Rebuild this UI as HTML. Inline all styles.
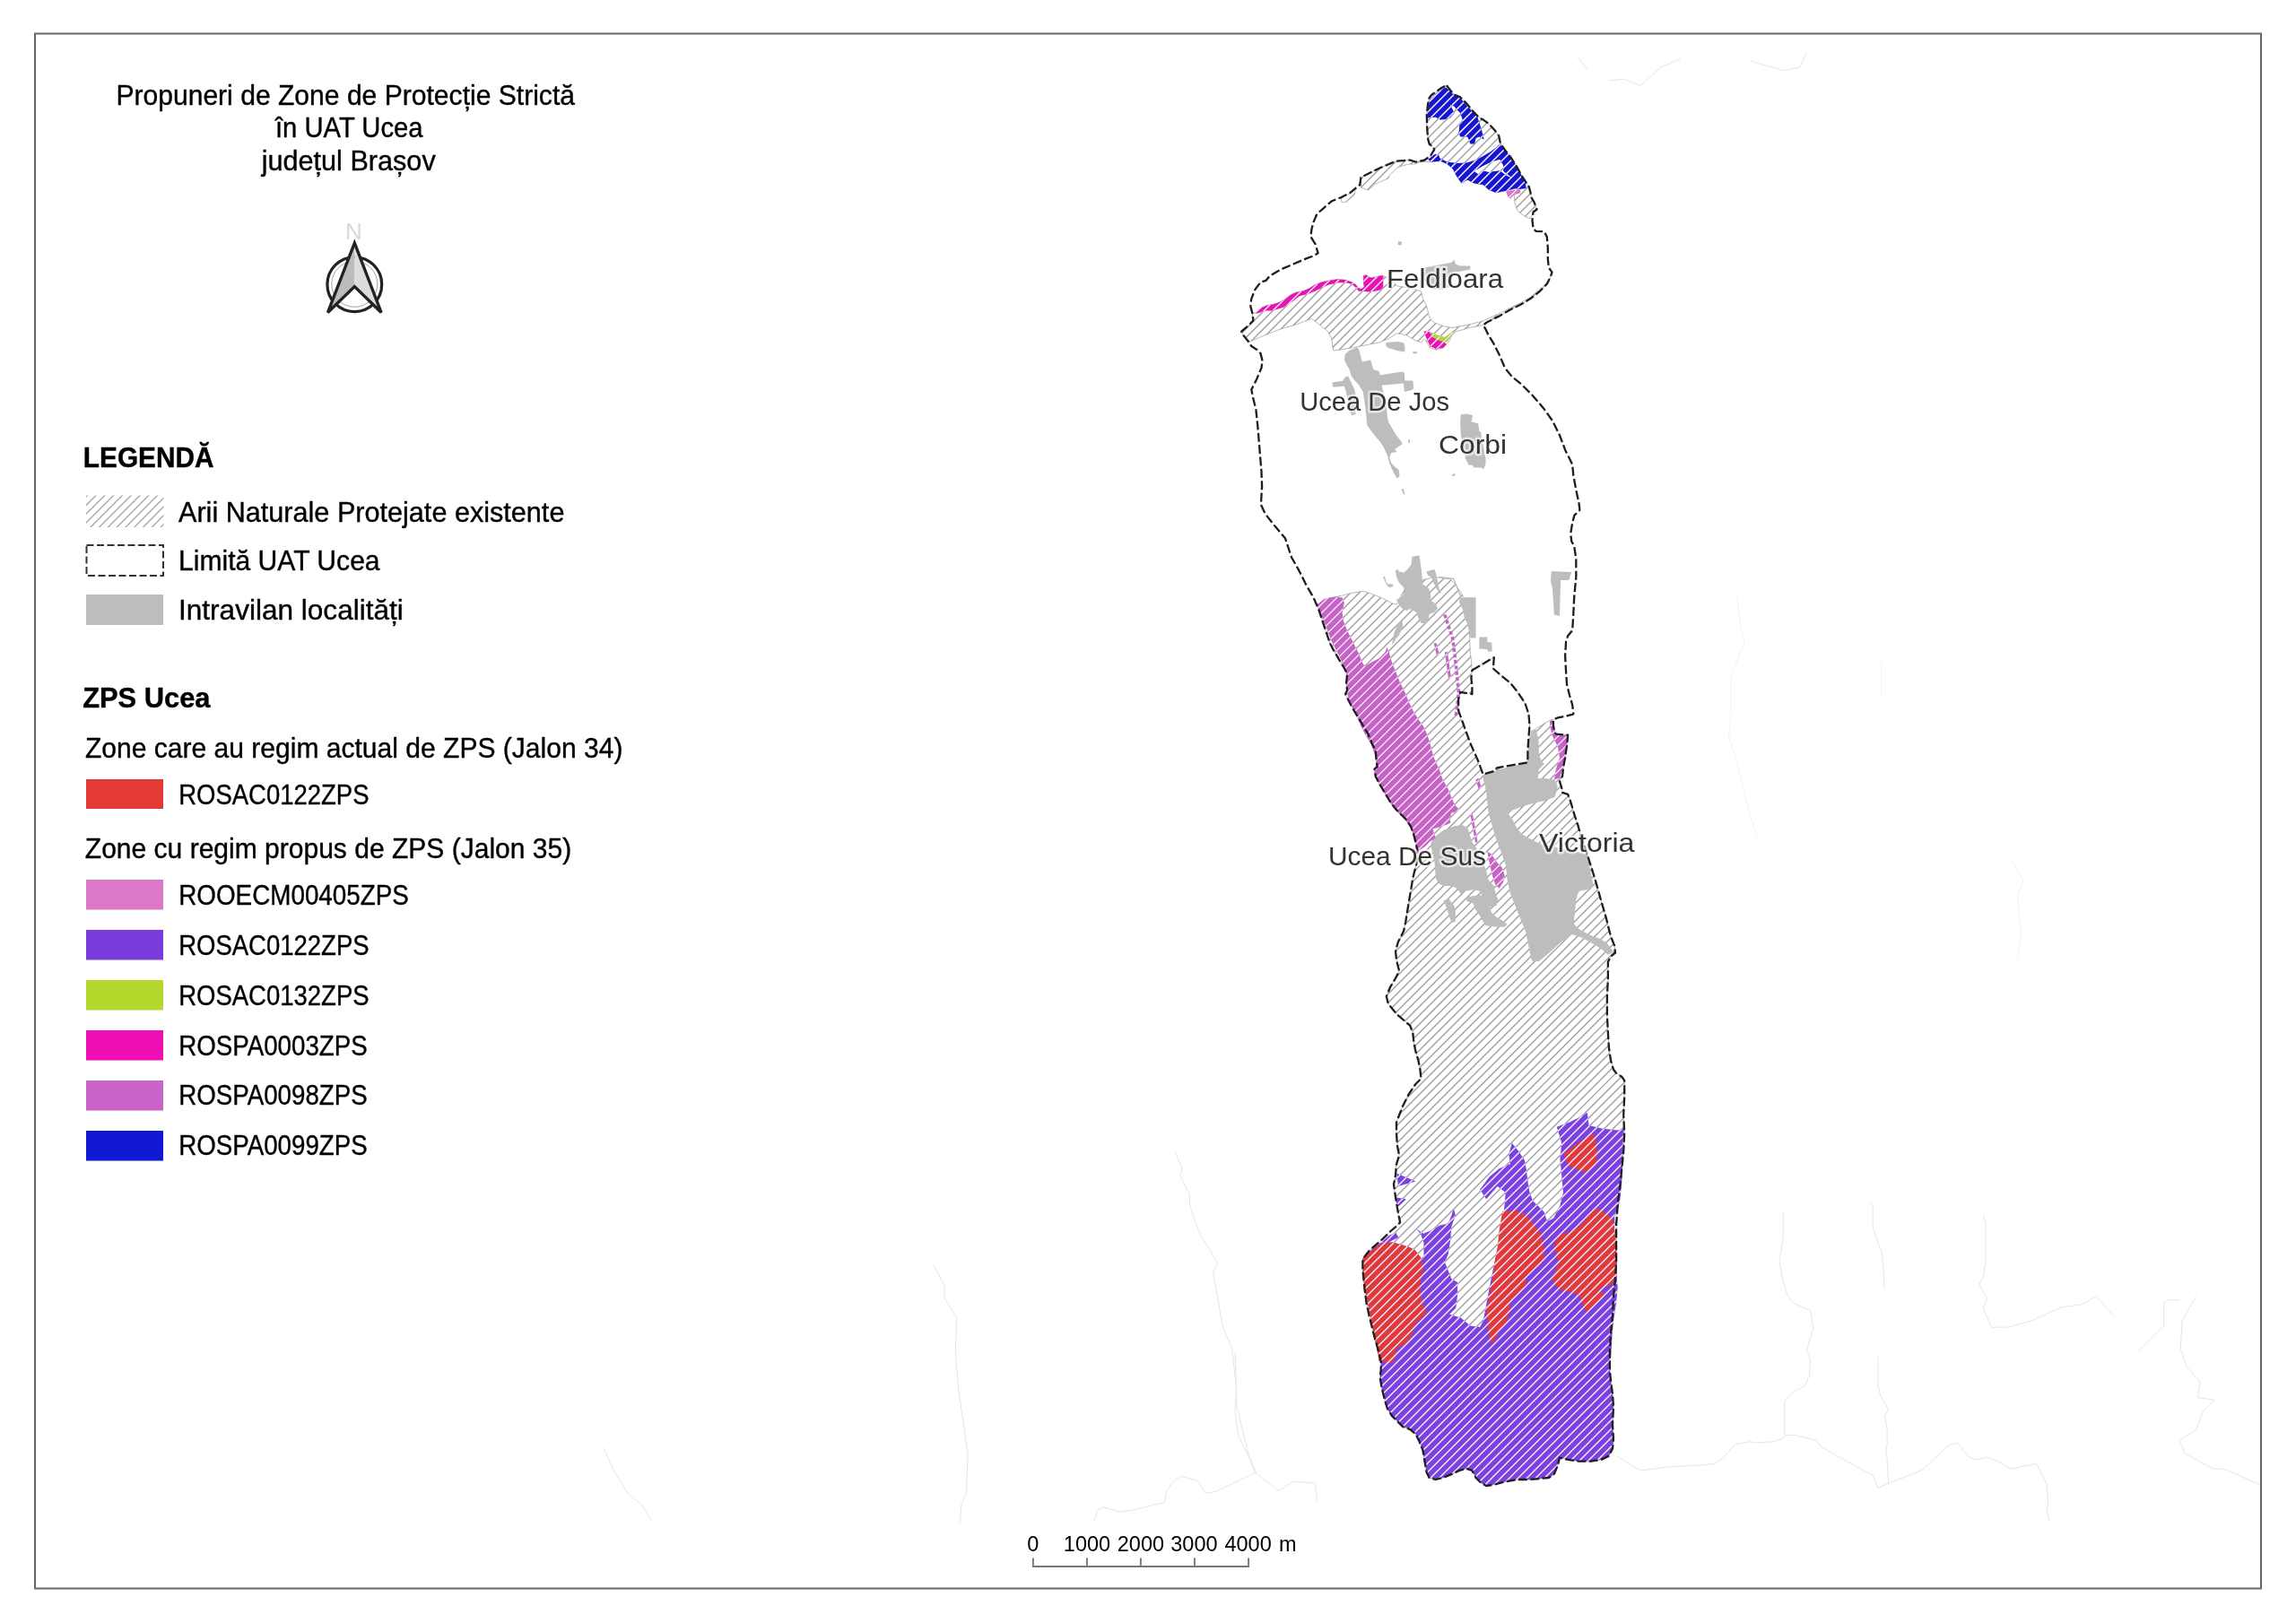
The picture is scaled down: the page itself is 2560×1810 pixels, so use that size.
<!DOCTYPE html><html><head><meta charset="utf-8"><style>html,body{margin:0;padding:0;background:#fff;}svg{display:block;}text{font-family:"Liberation Sans", sans-serif;}</style></head><body>
<div style="will-change:transform">
<svg xmlns="http://www.w3.org/2000/svg" width="2560" height="1810" viewBox="0 0 2560 1810">
<rect width="2560" height="1810" fill="#fff"/>
<defs>
<path id="hl" d="M1370.00 92.38L1377.38 85.00M1370.00 102.16L1387.16 85.00M1370.00 111.95L1396.95 85.00M1370.00 121.73L1406.73 85.00M1370.00 131.52L1416.52 85.00M1370.00 141.31L1426.31 85.00M1370.00 151.09L1436.09 85.00M1370.00 160.88L1445.88 85.00M1370.00 170.66L1455.66 85.00M1370.00 180.44L1465.44 85.00M1370.00 190.23L1475.23 85.00M1370.00 200.01L1485.01 85.00M1370.00 209.80L1494.80 85.00M1370.00 219.59L1504.59 85.00M1370.00 229.37L1514.37 85.00M1370.00 239.15L1524.15 85.00M1370.00 248.94L1533.94 85.00M1370.00 258.72L1543.72 85.00M1370.00 268.51L1553.51 85.00M1370.00 278.30L1563.30 85.00M1370.00 288.08L1573.08 85.00M1370.00 297.87L1582.87 85.00M1370.00 307.65L1592.65 85.00M1370.00 317.43L1602.43 85.00M1370.00 327.22L1612.22 85.00M1370.00 337.00L1622.00 85.00M1370.00 346.79L1631.79 85.00M1370.00 356.58L1641.58 85.00M1370.00 366.36L1651.36 85.00M1370.00 376.14L1661.14 85.00M1370.00 385.93L1670.93 85.00M1370.00 395.72L1680.72 85.00M1370.00 405.50L1690.50 85.00M1370.00 415.28L1700.28 85.00M1370.00 425.07L1710.07 85.00M1370.00 434.86L1719.86 85.00M1370.00 444.64L1729.64 85.00M1370.00 454.42L1739.42 85.00M1370.00 464.21L1749.21 85.00M1370.00 473.99L1758.99 85.00M1370.00 483.78L1768.78 85.00M1370.00 493.57L1778.57 85.00M1370.00 503.35L1788.35 85.00M1370.00 513.13L1798.13 85.00M1370.00 522.92L1807.92 85.00M1370.00 532.70L1817.70 85.00M1370.00 542.49L1827.49 85.00M1370.00 552.28L1837.28 85.00M1370.00 562.06L1840.00 92.06M1370.00 571.85L1840.00 101.85M1370.00 581.63L1840.00 111.63M1370.00 591.41L1840.00 121.41M1370.00 601.20L1840.00 131.20M1370.00 610.99L1840.00 140.99M1370.00 620.77L1840.00 150.77M1370.00 630.55L1840.00 160.55M1370.00 640.34L1840.00 170.34M1370.00 650.12L1840.00 180.12M1370.00 659.91L1840.00 189.91M1370.00 669.69L1840.00 199.69M1370.00 679.48L1840.00 209.48M1370.00 689.26L1840.00 219.26M1370.00 699.05L1840.00 229.05M1370.00 708.84L1840.00 238.84M1370.00 718.62L1840.00 248.62M1370.00 728.40L1840.00 258.40M1370.00 738.19L1840.00 268.19M1370.00 747.97L1840.00 277.97M1370.00 757.76L1840.00 287.76M1370.00 767.55L1840.00 297.55M1370.00 777.33L1840.00 307.33M1370.00 787.11L1840.00 317.11M1370.00 796.90L1840.00 326.90M1370.00 806.68L1840.00 336.68M1370.00 816.47L1840.00 346.47M1370.00 826.26L1840.00 356.26M1370.00 836.04L1840.00 366.04M1370.00 845.82L1840.00 375.82M1370.00 855.61L1840.00 385.61M1370.00 865.39L1840.00 395.39M1370.00 875.18L1840.00 405.18M1370.00 884.97L1840.00 414.97M1370.00 894.75L1840.00 424.75M1370.00 904.53L1840.00 434.53M1370.00 914.32L1840.00 444.32M1370.00 924.11L1840.00 454.11M1370.00 933.89L1840.00 463.89M1370.00 943.68L1840.00 473.68M1370.00 953.46L1840.00 483.46M1370.00 963.24L1840.00 493.24M1370.00 973.03L1840.00 503.03M1370.00 982.82L1840.00 512.82M1370.00 992.60L1840.00 522.60M1370.00 1002.39L1840.00 532.39M1370.00 1012.17L1840.00 542.17M1370.00 1021.95L1840.00 551.95M1370.00 1031.74L1840.00 561.74M1370.00 1041.53L1840.00 571.53M1370.00 1051.31L1840.00 581.31M1370.00 1061.09L1840.00 591.09M1370.00 1070.88L1840.00 600.88M1370.00 1080.66L1840.00 610.66M1370.00 1090.45L1840.00 620.45M1370.00 1100.24L1840.00 630.24M1370.00 1110.02L1840.00 640.02M1370.00 1119.80L1840.00 649.80M1370.00 1129.59L1840.00 659.59M1370.00 1139.38L1840.00 669.38M1370.00 1149.16L1840.00 679.16M1370.00 1158.95L1840.00 688.95M1370.00 1168.73L1840.00 698.73M1370.00 1178.51L1840.00 708.51M1370.00 1188.30L1840.00 718.30M1370.00 1198.09L1840.00 728.09M1370.00 1207.87L1840.00 737.87M1370.00 1217.66L1840.00 747.66M1370.00 1227.44L1840.00 757.44M1370.00 1237.22L1840.00 767.22M1370.00 1247.01L1840.00 777.01M1370.00 1256.80L1840.00 786.80M1370.00 1266.58L1840.00 796.58M1370.00 1276.36L1840.00 806.36M1370.00 1286.15L1840.00 816.15M1370.00 1295.93L1840.00 825.93M1370.00 1305.72L1840.00 835.72M1370.00 1315.51L1840.00 845.51M1370.00 1325.29L1840.00 855.29M1370.00 1335.07L1840.00 865.07M1370.00 1344.86L1840.00 874.86M1370.00 1354.64L1840.00 884.64M1370.00 1364.43L1840.00 894.43M1370.00 1374.22L1840.00 904.22M1370.00 1384.00L1840.00 914.00M1370.00 1393.78L1840.00 923.78M1370.00 1403.57L1840.00 933.57M1370.00 1413.36L1840.00 943.36M1370.00 1423.14L1840.00 953.14M1370.00 1432.93L1840.00 962.93M1370.00 1442.71L1840.00 972.71M1370.00 1452.49L1840.00 982.49M1370.00 1462.28L1840.00 992.28M1370.00 1472.07L1840.00 1002.07M1370.00 1481.85L1840.00 1011.85M1370.00 1491.64L1840.00 1021.64M1370.00 1501.42L1840.00 1031.42M1370.00 1511.20L1840.00 1041.20M1370.00 1520.99L1840.00 1050.99M1370.00 1530.78L1840.00 1060.78M1370.00 1540.56L1840.00 1070.56M1370.00 1550.34L1840.00 1080.34M1370.00 1560.13L1840.00 1090.13M1370.00 1569.91L1840.00 1099.91M1370.00 1579.70L1840.00 1109.70M1370.00 1589.49L1840.00 1119.49M1370.00 1599.27L1840.00 1129.27M1370.00 1609.05L1840.00 1139.05M1370.00 1618.84L1840.00 1148.84M1370.00 1628.62L1840.00 1158.62M1370.00 1638.41L1840.00 1168.41M1370.00 1648.20L1840.00 1178.20M1370.00 1657.98L1840.00 1187.98M1370.00 1667.76L1840.00 1197.76M1377.55 1670.00L1840.00 1207.55M1387.34 1670.00L1840.00 1217.34M1397.12 1670.00L1840.00 1227.12M1406.91 1670.00L1840.00 1236.91M1416.69 1670.00L1840.00 1246.69M1426.47 1670.00L1840.00 1256.47M1436.26 1670.00L1840.00 1266.26M1446.05 1670.00L1840.00 1276.05M1455.83 1670.00L1840.00 1285.83M1465.61 1670.00L1840.00 1295.61M1475.40 1670.00L1840.00 1305.40M1485.18 1670.00L1840.00 1315.18M1494.97 1670.00L1840.00 1324.97M1504.76 1670.00L1840.00 1334.76M1514.54 1670.00L1840.00 1344.54M1524.32 1670.00L1840.00 1354.32M1534.11 1670.00L1840.00 1364.11M1543.89 1670.00L1840.00 1373.89M1553.68 1670.00L1840.00 1383.68M1563.47 1670.00L1840.00 1393.47M1573.25 1670.00L1840.00 1403.25M1583.03 1670.00L1840.00 1413.03M1592.82 1670.00L1840.00 1422.82M1602.61 1670.00L1840.00 1432.61M1612.39 1670.00L1840.00 1442.39M1622.18 1670.00L1840.00 1452.18M1631.96 1670.00L1840.00 1461.96M1641.74 1670.00L1840.00 1471.74M1651.53 1670.00L1840.00 1481.53M1661.32 1670.00L1840.00 1491.32M1671.10 1670.00L1840.00 1501.10M1680.89 1670.00L1840.00 1510.89M1690.67 1670.00L1840.00 1520.67M1700.45 1670.00L1840.00 1530.45M1710.24 1670.00L1840.00 1540.24M1720.03 1670.00L1840.00 1550.03M1729.81 1670.00L1840.00 1559.81M1739.60 1670.00L1840.00 1569.60M1749.38 1670.00L1840.00 1579.38M1759.16 1670.00L1840.00 1589.16M1768.95 1670.00L1840.00 1598.95M1778.74 1670.00L1840.00 1608.74M1788.52 1670.00L1840.00 1618.52M1798.31 1670.00L1840.00 1628.31M1808.09 1670.00L1840.00 1638.09M1817.88 1670.00L1840.00 1647.88M1827.66 1670.00L1840.00 1657.66M1837.45 1670.00L1840.00 1667.45"/>
<clipPath id="cH"><path d="M1580.8 180.5 L1586.4 178.9 L1591.2 176.5 L1595.2 173.3 L1599.2 166.9 L1598.4 164.5 L1593.6 160.5 L1592 154.1 L1591.2 142.1 L1590.8 128.4 L1592 116.4 L1593.6 109.2 L1596 106 L1601.6 102 L1607.2 98 L1612.8 95.2 L1612.8 95.2 L1617.6 101.2 L1620.8 105.2 L1628.1 108.4 L1636.1 116.4 L1642.5 124.4 L1648.9 130.8 L1654.5 134.1 L1660.1 138.1 L1667.3 146.1 L1671.3 151.7 L1672.9 159.7 L1677.7 166.9 L1684.1 174.9 L1691.3 186.1 L1696.9 196.5 L1701.7 203.7 L1704.9 208.5 L1706.5 214.9 L1707.3 220 L1710.5 225.3 L1713.6 233.5 L1709.5 236.5 L1706.5 243.6 L1700.4 241.6 L1692.2 235.5 L1689.2 227.4 L1688.2 217.2 L1695.3 213.3 L1690.5 210.1 L1680.1 212.5 L1668.1 214.9 L1660.1 211.7 L1653.7 206.1 L1644.1 204.5 L1636.1 200.5 L1629.7 204.5 L1624.1 196.5 L1620 188.5 L1613.6 182.9 L1606.4 179.7 L1596 180.5 Z"/><path d="M1517.4 197.9 L1537.7 187.7 L1551.9 181.6 L1558 179.6 L1572.3 178.5 L1578.4 180.6 L1588.5 178.5 L1578.4 183 L1570.2 183 L1558 186.7 L1549.9 194.8 L1547.9 198.9 L1533.6 205 L1525.5 212.1 L1517.4 209.5 Z"/><path d="M1495 220.8 L1505.2 215.6 L1511.3 210.7 L1510.2 217.2 L1501.1 225.3 L1496 225.3 Z"/><path d="M1396.4 349.4 L1400.4 349 L1407.4 342.7 L1412.9 340.4 L1419.2 339.6 L1423.9 338 L1431 334.9 L1439.6 328.6 L1445.1 325.9 L1449 325.5 L1454.5 323.9 L1460 321.5 L1466.2 317.6 L1474.1 314.5 L1481.9 312.9 L1491.3 311.4 L1499.2 312.1 L1507 314.5 L1511.7 317.6 L1514.8 321.5 L1518 322.3 L1521.1 320 L1520.3 316.1 L1520.3 307.4 L1523.5 306.7 L1526.6 309 L1528.9 309.8 L1533.7 309 L1539.1 307.4 L1542.3 307.4 L1547.9 310.7 L1558 318.9 L1570.2 320.9 L1578.4 322.9 L1584.5 325 L1586.5 333.1 L1590.6 341.2 L1592.6 349.4 L1594.6 355.5 L1598.7 359.5 L1608.9 363.6 L1619 365.6 L1629.2 363.6 L1639.4 361.6 L1653.6 357.9 L1669.9 350.4 L1684.1 343.3 L1696.3 337.2 L1706.5 331.1 L1716.6 322.9 L1724.8 315.2 L1728.8 308.7 L1724.8 316.8 L1716.6 325 L1706.5 333.1 L1696.3 339.2 L1684.1 345.3 L1669.9 353.4 L1657.7 359.5 L1653.6 362.6 L1639.4 365.2 L1631.2 367.7 L1623.1 369.7 L1619 373.8 L1615 381.9 L1608.9 388 L1600.7 390 L1594.6 388 L1588.5 377.8 L1584.5 381.9 L1578.4 379.9 L1568.2 373.8 L1558 371.7 L1547.9 377.8 L1537.7 381.9 L1517.4 386 L1501.1 389 L1486.8 391.1 L1485.8 386 L1484.8 377.8 L1480.7 369.7 L1470.6 361.6 L1462.4 355.5 L1456.3 357.5 L1446.2 361.6 L1425.8 367.7 L1405.5 375.8 L1391.3 381.9 L1386.2 373.8 L1384.2 369.7 L1391.3 363.6 L1397.4 357.5 Z"/><path d="M1469.6 673.5 L1480.7 667.4 L1497 664 L1507.2 661.3 L1520.4 659.3 L1529.6 662.3 L1539.7 666.4 L1551.9 672.5 L1557 674.5 L1562.1 664.4 L1568.2 654.2 L1578.4 650.1 L1588.5 646.1 L1598.7 644 L1604.8 644 L1617 646.1 L1621.1 650.1 L1627.2 658.3 L1632.3 666.4 L1635.3 684.7 L1638.4 705 L1639.4 730.1 L1640.4 735.3 L1641.4 747.5 L1651.6 741.4 L1663.8 734.3 L1665.8 733.3 L1664.8 745.5 L1673.9 753.6 L1684.1 761.8 L1692.2 771.9 L1700.4 784.1 L1704.4 796.3 L1705.5 808.5 L1705.5 816.7 L1712.6 812.6 L1720.7 807.5 L1729.9 802.4 L1731.9 802.4 L1731.9 808.5 L1732.9 814.6 L1734.9 818.7 L1748.2 819.7 L1747.1 830.9 L1745.1 845.2 L1743.1 855.3 L1742.1 865.5 L1739 871.6 L1741 877.7 L1742.1 883.8 L1748.2 885.8 L1751.2 894 L1755.3 908.2 L1759.4 920.4 L1763.4 934.6 L1768.5 948.9 L1773.6 965.1 L1778.7 981.4 L1782.7 995.6 L1786.8 1009.9 L1790.9 1024.1 L1793.9 1036.3 L1796 1044.2 L1800 1054.4 L1801 1062.5 L1796 1066.6 L1792.9 1072.7 L1792.9 1091 L1791.9 1111.3 L1791.9 1131.7 L1792.9 1152 L1793.9 1168.3 L1796 1182.5 L1799 1192.7 L1802.1 1196.8 L1808.2 1200.8 L1811.2 1204.9 L1811.2 1223.2 L1810.2 1243.5 L1811.2 1263.9 L1810.2 1284.2 L1808.2 1304.5 L1806.1 1324.9 L1804.1 1339.1 L1802.1 1365.3 L1802.1 1385.7 L1802.1 1406 L1801 1426.3 L1799 1446.7 L1798 1467 L1796 1487.4 L1794.9 1507.7 L1794.9 1528 L1796 1540.2 L1798 1554.5 L1799 1568.7 L1798 1589 L1799 1605.3 L1798 1615.5 L1793.9 1623.6 L1785.8 1627.7 L1773.6 1629.7 L1761.4 1629.7 L1747.1 1627.7 L1739 1625.6 L1737 1633.8 L1732.9 1643.9 L1726.8 1648 L1716.6 1649 L1704.4 1650 L1692.2 1650 L1680 1652.1 L1667.8 1655.1 L1657.7 1657.2 L1651.6 1654.1 L1645.5 1648 L1641.4 1639.9 L1635.3 1637.8 L1627.2 1639.9 L1619 1643.9 L1608.9 1648 L1600.7 1650 L1593.6 1648 L1590.6 1641.9 L1588.5 1629.7 L1586.5 1617.5 L1582.4 1607.3 L1578.4 1599.2 L1572.3 1594.1 L1564.1 1591.1 L1558 1585 L1551.9 1578.9 L1546.8 1570.7 L1543.8 1560.6 L1540.7 1548.4 L1538.7 1536.2 L1539.7 1528 L1539.7 1517.9 L1536.7 1505.7 L1532.6 1491.4 L1529.6 1479.2 L1526.5 1467 L1523.5 1452.8 L1521.4 1436.5 L1519.4 1416.2 L1519.4 1404 L1527.5 1393.8 L1533.6 1388.7 L1541.8 1381.6 L1549.9 1373.5 L1557 1367.4 L1561.1 1363.3 L1559 1353.1 L1556 1335 L1554 1320.8 L1556 1310.6 L1557 1298.4 L1560.1 1288.3 L1558 1278.1 L1557 1263.9 L1557 1251.7 L1560.1 1243.5 L1564.1 1233.4 L1570.2 1221.2 L1578.4 1209 L1584.5 1202.9 L1583.4 1192.7 L1581.4 1182.5 L1578.4 1172.4 L1576.3 1162.2 L1575.3 1152 L1572.3 1143.9 L1558 1131.7 L1547.9 1119.5 L1545.8 1111.3 L1549.9 1101.2 L1556 1091 L1560.1 1082.9 L1557 1070.7 L1556 1060.5 L1559 1050.3 L1563.1 1042.2 L1565.1 1038.3 L1567.2 1028.2 L1569.2 1016 L1571.2 1003.8 L1573.3 991.6 L1575.3 979.4 L1577.3 971.2 L1580.4 959 L1580.4 948.9 L1578.4 938.7 L1576.3 930.6 L1573.3 922.4 L1568.2 914.3 L1562.1 908.2 L1556 902.1 L1549.9 894 L1543.8 883.8 L1537.7 873.6 L1533.6 865.5 L1532.6 857.4 L1535.7 855.3 L1534.6 847.2 L1533.6 837 L1529.6 828.9 L1525.5 818.7 L1519.4 808.5 L1513.3 798.4 L1507.2 788.2 L1502.1 778 L1500.1 774 L1502.1 769.9 L1501.1 761.8 L1502.1 751.6 L1499 745.5 L1492.9 735.3 L1485.8 723.1 L1482.8 717.2 L1478.7 705 L1474.6 692.8 L1470.6 680.6 Z"/></clipPath>
<clipPath id="cZ"><path d="M1594.4 110.8 L1604 101.2 L1612 97.6 L1617.6 102 L1620.8 106 L1628.1 109.2 L1635.3 117.2 L1642.5 125.2 L1647.3 130 L1648.9 134.9 L1651.3 142.9 L1653.7 150.9 L1654.5 155.7 L1649.7 152.5 L1645.7 154.1 L1644.1 160.5 L1639.3 160.5 L1637.7 155.7 L1636.1 152.5 L1628.1 152.5 L1626.5 147.7 L1627.3 139.7 L1631.3 134.9 L1628.1 126 L1624.1 122 L1621.6 118.8 L1616.8 116.4 L1621.6 126 L1616.8 131.6 L1610.4 133.2 L1605.6 133.6 L1600.8 130.8 L1592 131.6 L1592 122 Z"/><path d="M1592 178.1 L1600 171.7 L1604 172.5 L1605.6 176.5 L1613.6 180.5 L1624.9 182.1 L1636.1 181.3 L1646.5 178.1 L1653.7 174.1 L1661.7 169.3 L1668.1 164.5 L1672.1 160.5 L1677.7 166.9 L1684.1 174.9 L1692.1 186.1 L1696.9 196.5 L1700.9 203.7 L1701.7 210.1 L1695.3 210.9 L1690.5 210.1 L1680.1 212.5 L1668.1 214.9 L1660.1 211.7 L1653.7 206.1 L1644.1 204.5 L1636.1 200.5 L1629.7 204.5 L1624.1 196.5 L1620 188.5 L1613.6 182.9 L1606.4 179.7 L1596 180.5 Z"/><path d="M1679 213.1 L1688.2 212.1 L1694.3 211.1 L1695.3 215.2 L1689.2 216.8 L1686.1 219.2 L1684.1 221.7 L1681.1 219.2 Z"/><path d="M1400.4 349 L1407.4 342.7 L1412.9 340.4 L1419.2 339.6 L1423.9 338 L1431 334.9 L1439.6 328.6 L1445.1 325.9 L1449 325.5 L1454.5 323.9 L1460 321.5 L1466.2 317.6 L1474.1 314.5 L1481.9 312.9 L1491.3 311.4 L1499.2 312.1 L1507 314.5 L1511.7 317.6 L1514.8 321.5 L1518 322.3 L1521.1 320 L1520.3 316.1 L1520.3 307.4 L1523.5 306.7 L1526.6 309 L1528.9 309.8 L1533.7 309 L1539.1 307.4 L1542.3 307.4 L1542.3 319.2 L1540.7 323.1 L1532.9 324.7 L1525 325.5 L1519.5 324.7 L1514.8 324.7 L1511.7 320.8 L1507 316.8 L1500.7 315.3 L1492.1 315.3 L1481.9 317.6 L1474.1 320.8 L1466.2 324.7 L1460.7 327 L1455.3 328.6 L1449 330.2 L1442.7 334.9 L1436.4 339.6 L1431 342.7 L1423.9 345.1 L1417.6 346.6 L1411.4 346.6 L1405.9 348.2 L1401.2 349.8 Z"/><path d="M1587.5 369.7 L1592.6 368.7 L1596.7 373.8 L1602.8 377.8 L1608.9 379.9 L1612.9 383.9 L1608.9 388 L1600.7 389 L1594.6 386 L1590.6 377.8 Z"/><path d="M1594.6 369.7 L1602.8 373.8 L1610.9 375.8 L1617 371.7 L1621.1 367.7 L1619 373.8 L1612.9 381.9 L1604.8 379.9 L1596.7 375.8 Z"/><path d="M1712.6 325 L1718.7 320.9 L1721.7 317.8 L1720.7 321.9 L1714.6 327 Z"/><path d="M1470 673.3 L1476.6 667.7 L1488.8 665.5 L1496.6 666.6 L1498.8 672.2 L1496.6 683.3 L1497.7 692.1 L1502.1 703.2 L1506.6 712.1 L1511 721 L1515.5 729.8 L1518.8 738.7 L1522.1 743.2 L1528.8 738.7 L1537.6 734.3 L1544.3 727.6 L1546.5 722.1 L1548.7 727.6 L1552 738.7 L1556.5 749.8 L1560.9 760.9 L1566.5 772 L1570.9 783.1 L1576.4 794.2 L1582 803 L1587.5 810.8 L1590.9 818.6 L1591.7 820 L1594.7 829.9 L1598.6 844.7 L1604.5 857.5 L1608.5 869.3 L1614.4 879.2 L1618.3 889 L1622.3 897.9 L1627.2 902.8 L1624.3 904.8 L1618.3 906.8 L1616.4 912.7 L1617.4 917.6 L1613.4 919.6 L1604.5 922.6 L1597.6 924.5 L1598.6 928.5 L1600.6 934.4 L1594.7 938.3 L1588.8 944.3 L1582.8 948.2 L1578.9 946.2 L1577.9 940.3 L1576.9 938.3 L1575 928.5 L1572 921.6 L1567.1 914.7 L1559.2 906.8 L1553.3 899.9 L1546.4 889 L1540.4 879.2 L1535.5 869.3 L1532.5 861.4 L1533.5 856.5 L1534.5 849.6 L1532.5 839.7 L1528.6 829.9 L1522.7 820 L1517.7 810.8 L1513.2 799.7 L1507.7 788.6 L1503.3 777.5 L1501 769.8 L1502.1 760.9 L1501 749.8 L1496.6 738.7 L1491.1 727.6 L1484.4 714.3 L1478.9 699.9 L1473.3 686.6 L1466.7 672.2 Z"/><path d="M1727.8 804.5 L1730.9 802.4 L1732.9 814.6 L1734.9 818.7 L1748.2 819.7 L1747.1 830.9 L1743.1 855.3 L1739 867.5 L1732.9 869.6 L1734.9 857.4 L1739 845.2 L1737 832.9 L1730.9 820.7 L1728.8 812.6 Z"/><path d="M1658.4 949.4 L1662.8 952.4 L1668.7 961.3 L1674.6 967.2 L1677.6 976 L1676.1 983.4 L1671.7 990.8 L1667.2 986.4 L1664.3 977.5 L1661.3 965.7 Z"/><path d="M1610.9 727.2 L1613.9 727.2 L1618 755.7 L1615 756.7 Z"/><path d="M1645.5 869.6 L1648.5 867.5 L1651.6 877.7 L1648.5 879.7 Z"/><path d="M1639.4 908.2 L1641.8 907.2 L1647.5 938.7 L1645.1 939.7 Z"/><path d="M1598.7 717.2 L1601.7 717.2 L1604.8 730.1 L1601.7 730.1 Z"/><path d="M1540 1385.5 L1553 1385.6 L1562.4 1388.1 L1571.6 1391.1 L1577.8 1394.2 L1581 1398.5 L1585 1405 L1587.5 1400 L1587.5 1386 L1584 1376 L1579 1370.2 L1587 1375.7 L1596.3 1372 L1605.5 1366.5 L1614.7 1364.6 L1618.4 1355.4 L1620.9 1347.4 L1622.8 1355.4 L1618.4 1367.7 L1617.2 1383.1 L1614.7 1398.5 L1611 1407.8 L1614.7 1417 L1618.4 1426.3 L1625.1 1430.1 L1625.1 1444.4 L1623.3 1458.7 L1616.1 1465.8 L1628.6 1469.4 L1639.4 1478.4 L1650.1 1480.1 L1653.7 1473 L1657.2 1455.1 L1660.8 1435.5 L1664.4 1417.6 L1668 1401.5 L1671.5 1383.7 L1673.3 1365.8 L1676.9 1351.5 L1678.7 1330.1 L1669.7 1322.9 L1657.2 1337.2 L1650.1 1326.5 L1660.8 1312.2 L1671.5 1303.3 L1684 1297.9 L1682.2 1287.2 L1685.8 1274.7 L1693 1283.6 L1700.1 1294.3 L1701.9 1305 L1703.7 1319.3 L1705.5 1330.1 L1709 1339 L1721.6 1351.5 L1725.1 1362.2 L1732.3 1358.6 L1739.4 1344.3 L1743 1330.1 L1741.2 1310.4 L1739.4 1292.5 L1741.2 1274.7 L1735.8 1256.8 L1750.1 1251.4 L1764.4 1244.3 L1769.8 1240.7 L1771.6 1255 L1785.9 1258.6 L1803.7 1260.4 L1810.9 1258.6 L1810 1265.7 L1809.1 1283.6 L1809.1 1301.5 L1808.2 1319.3 L1806.4 1337.2 L1804.6 1346.1 L1800.2 1355.1 L1800.2 1372.9 L1802 1390.8 L1802.8 1408.7 L1802.8 1426.5 L1803.7 1435.5 L1802 1453.3 L1799.3 1471.2 L1797.5 1489.1 L1796.6 1506.9 L1795.7 1520 L1794.9 1528 L1796 1540.2 L1798 1554.5 L1799 1568.7 L1798 1589 L1799 1605.3 L1798 1615.5 L1793.9 1623.6 L1785.8 1627.7 L1773.6 1629.7 L1761.4 1629.7 L1747.1 1627.7 L1739 1625.6 L1737 1633.8 L1732.9 1643.9 L1726.8 1648 L1716.6 1649 L1704.4 1650 L1692.2 1650 L1680 1652.1 L1667.8 1655.1 L1657.7 1657.2 L1651.6 1654.1 L1645.5 1648 L1641.4 1639.9 L1635.3 1637.8 L1627.2 1639.9 L1619 1643.9 L1608.9 1648 L1600.7 1650 L1593.6 1648 L1590.6 1641.9 L1588.5 1629.7 L1586.5 1617.5 L1582.4 1607.3 L1578.4 1599.2 L1572.3 1594.1 L1564.1 1591.1 L1558 1585 L1551.9 1578.9 L1546.8 1570.7 L1543.8 1560.6 L1540.7 1548.4 L1538.7 1536.2 L1539.7 1528 L1539.7 1517.9 L1535.7 1506.9 L1532.2 1489.1 L1528.6 1471.2 L1525 1453.3 L1521.4 1435.5 L1519.7 1417.6 L1519.7 1403.3 L1532.2 1390.8 Z"/><path d="M1540.8 1385 L1548.2 1378.2 L1556.2 1374.5 L1559.3 1380 L1553.1 1383.1 L1547 1386.2 Z"/><path d="M1557.2 1308.6 L1578.6 1317.5 L1571.5 1319.3 L1559 1322.9 Z"/><path d="M1557.2 1335.4 L1567.9 1337.2 L1560.7 1344.3 L1557.2 1346.1 Z"/><path d="M1519.2 1403.5 L1528.5 1395.5 L1537.7 1388.1 L1543.9 1385.6 L1553.1 1385.6 L1562.4 1388.1 L1571.6 1391.1 L1577.8 1394.2 L1580.9 1398.5 L1583.9 1401.6 L1587 1414 L1583.9 1429.3 L1583.3 1440 L1587.5 1458.7 L1591.1 1462.3 L1587.5 1467.6 L1578.6 1474.8 L1575 1487.3 L1567.9 1498 L1557.2 1503.4 L1555.4 1515.9 L1551.8 1520 L1537.5 1518 L1535.7 1506.9 L1532.2 1489.1 L1528.6 1471.2 L1525 1453.3 L1521.4 1435.5 L1519.7 1417.6 Z"/><path d="M1675.1 1351.5 L1689.4 1349.7 L1701.9 1355.1 L1710.8 1365.8 L1718 1376.5 L1721.6 1390.8 L1721.6 1401.5 L1718 1410.5 L1712.6 1414 L1705.5 1419.4 L1700.1 1424.8 L1701.9 1430.1 L1696.5 1440.8 L1689.4 1444.4 L1684 1453.3 L1682.2 1465.8 L1678.7 1476.6 L1671.5 1483.7 L1668 1492.6 L1664.4 1498 L1660.8 1494.4 L1659 1480.1 L1657.2 1462.3 L1660.8 1444.4 L1664.4 1426.5 L1666.2 1408.7 L1669.7 1390.8 L1671.5 1372.9 Z"/><path d="M1743.6 1286.7 L1760 1274 L1776.8 1264.6 L1780 1275 L1781 1286.7 L1779.1 1299 L1768.5 1307.5 L1758 1304 L1747.7 1299.2 Z"/><path d="M1737.6 1378.3 L1746.6 1374.7 L1759.1 1369.4 L1768 1360.4 L1773.4 1351.5 L1782.3 1347.9 L1791.2 1353.3 L1798.4 1360.4 L1800.2 1372.9 L1802 1390.8 L1802.8 1408.7 L1802 1426.5 L1794.8 1433.7 L1782.3 1437.3 L1789.4 1444.4 L1782.3 1451.6 L1775.2 1458.7 L1768 1462.3 L1764.4 1453.3 L1760.9 1444.4 L1750.1 1440.8 L1737.6 1437.3 L1730.5 1426.5 L1734.1 1417.6 L1737.6 1408.7 L1735.8 1399.7 L1732.3 1390.8 Z"/></clipPath>
</defs>
<rect x="39" y="37.5" width="2482" height="1734" fill="none" stroke="#666" stroke-width="2"/>
<g id="map">
<g fill="none" stroke="#f2f2f2" stroke-width="1"><path d="M1936.5 662.1L1940.9 702.1L1945.4 715.4L1936.5 737.6L1929.8 755.3L1929.8 799.7L1927.6 821.9L1936.5 848.5L1945.4 888.4L1958.7 932.8"/><path d="M2097.6 737.6L2097.6 777.5"/><path d="M2242.7 959.4L2256 981.6L2249.4 999.4L2253.8 1043.8L2249.4 1070.4"/></g>
<g fill="none" stroke="#e6e6e6" stroke-width="1"><path d="M673.2 1614.6 L683.6 1639 L701 1666.9 L715 1677.5 L727.2 1696.5"/><path d="M1040.8 1410.8 L1053 1433.4 L1053 1447.4 L1066.9 1470 L1065.2 1506.6 L1068.6 1548.4 L1079.1 1621.6 L1077.4 1663.4 L1072.1 1677.4 L1070.4 1698.3"/><path d="M1310.8 1285.4 L1317.8 1302.8 L1316 1311.5 L1326.5 1332.4 L1326.5 1342.9 L1331.7 1360.3 L1338.7 1377.7 L1345.6 1388.2 L1357.8 1409.1 L1352.6 1419.5 L1357.8 1447.4 L1363.1 1478.7 L1373.5 1503.1 L1378.7 1548.4 L1377 1572.8 L1380.5 1600.7 L1390.9 1621.6 L1399.7 1642.5 L1401.4 1644 L1425.8 1662.3 L1442.1 1652.1 L1466.5 1654.1 L1468.6 1675.1"/><path d="M1377 1507.7 L1379.1 1568.7 L1391.3 1619.6 L1401.4 1644"/><path d="M1220.2 1696.5 L1223.7 1684.3 L1230.7 1680.8 L1248.1 1686.1 L1262 1684.3 L1282.9 1679.1 L1298.6 1675.6 L1300.3 1663.4 L1307.3 1653 L1316 1646 L1335.2 1651.2 L1343.9 1665.2 L1356.1 1663.4 L1377 1653 L1399.7 1642.5"/><path d="M1988.3 1351.4 L1988.3 1380.3 L1984 1406.4 L1986.9 1423.8 L1992.7 1444 L1998.5 1452.7 L2018.7 1461.4 L2021.6 1481.7 L2014.4 1506.3 L2018.7 1516.4 L2017.3 1533.8 L2012.9 1545.4 L2001.4 1551.2 L1989.8 1562.8 L1989.8 1600.4"/><path d="M1802 1623.6 L1828.7 1640 L1860 1636 L1900 1633.7 L1911.6 1632.3 L1920.3 1626.5 L1934.8 1610.6 L1952.1 1607.7 L1957.9 1609.1 L1978.2 1607.7 L1986.9 1604.8 L1991.2 1600.4 L2001.4 1600.4 L2024.5 1606.2 L2030.3 1613.4 L2050.6 1625 L2088.2 1645.3 L2094 1659.8 L2102.7 1655.4 L2143.3 1639.5 L2172.2 1612 L2182.4 1609.1 L2195.4 1625 L2204.1 1627.9 L2215.7 1625 L2227.2 1629.4 L2241.7 1638.1 L2270.7 1632.3 L2282.3 1655.4 L2283.7 1675.7 L2282.3 1684.4 L2285.2 1697.4"/><path d="M2085.3 1341.2 L2088.2 1345.6 L2088.2 1368.7 L2091.1 1377.4 L2098.4 1397.7 L2099.8 1412.2 L2101.3 1438.2"/><path d="M2094 1513.5 L2094 1545.4 L2096.9 1557 L2105.6 1571.5 L2101.3 1578.7 L2104.2 1594.6 L2104.2 1612 L2102.7 1617.8 L2104.2 1626.5 L2105.6 1654"/><path d="M2211.3 1355.7 L2214.2 1365.8 L2214.2 1406.4 L2211.3 1423.8 L2207 1432.5 L2215.7 1448.4 L2211.3 1458.5 L2220 1480.2 L2238.8 1480.2 L2264.9 1473 L2296.8 1458.5 L2322.8 1454.2 L2337.3 1445.5 L2357.6 1468.6"/><path d="M2383.6 1507.7 L2398.1 1493.3 L2412.6 1478.8 L2412.6 1452.7 L2418.4 1449.8 L2430 1449.8"/><path d="M2448.8 1445.5 L2432.9 1473 L2431.4 1504.8 L2438.7 1525.1 L2453.1 1541 L2450.2 1558.4 L2469.1 1561.3 L2456 1574.4 L2448.8 1594.6 L2430 1606.2 L2435.8 1620.7 L2467.6 1638.1 L2479.2 1638.1 L2519.7 1655.4"/><path d="M1759.1 64 L1770.2 77"/><path d="M1794.3 89.9 L1810.9 88.1 L1829.4 95.5 L1851.6 75.1 L1873.8 65.9"/><path d="M1951.4 67.7 L1988.4 78.8 L2006.8 75.1 L2014.2 58.5"/></g>
<g clip-path="url(#cH)"><use href="#hl" fill="none" stroke="#a0a0a0" stroke-width="1.4"/></g>
<path d="M1641.4 747.5 L1651.6 741.4 L1663.8 734.3 L1665.8 733.3 L1664.8 745.5 L1673.9 753.6 L1684.1 761.8 L1692.2 771.9 L1700.4 784.1 L1704.4 796.3 L1705.5 808.5 L1704.4 822.8 L1703.4 837 L1703.4 850.2 L1692.2 852.3 L1680 854.3 L1668.9 856.3 L1667.8 859.4 L1653.6 863.5 L1647.5 847.2 L1639.4 828.9 L1631.2 806.5 L1626.1 792.3 L1626.1 780.1 L1628.2 771.9 L1641.4 774 L1641.4 765.8 L1640.4 755.7 Z" fill="#fff"/>
<g fill="none" stroke="#9a9a9a" stroke-width="0.7"><path d="M1580.8 180.5 L1586.4 178.9 L1591.2 176.5 L1595.2 173.3 L1599.2 166.9 L1598.4 164.5 L1593.6 160.5 L1592 154.1 L1591.2 142.1 L1590.8 128.4 L1592 116.4 L1593.6 109.2 L1596 106 L1601.6 102 L1607.2 98 L1612.8 95.2 L1612.8 95.2 L1617.6 101.2 L1620.8 105.2 L1628.1 108.4 L1636.1 116.4 L1642.5 124.4 L1648.9 130.8 L1654.5 134.1 L1660.1 138.1 L1667.3 146.1 L1671.3 151.7 L1672.9 159.7 L1677.7 166.9 L1684.1 174.9 L1691.3 186.1 L1696.9 196.5 L1701.7 203.7 L1704.9 208.5 L1706.5 214.9 L1707.3 220 L1710.5 225.3 L1713.6 233.5 L1709.5 236.5 L1706.5 243.6 L1700.4 241.6 L1692.2 235.5 L1689.2 227.4 L1688.2 217.2 L1695.3 213.3 L1690.5 210.1 L1680.1 212.5 L1668.1 214.9 L1660.1 211.7 L1653.7 206.1 L1644.1 204.5 L1636.1 200.5 L1629.7 204.5 L1624.1 196.5 L1620 188.5 L1613.6 182.9 L1606.4 179.7 L1596 180.5 Z"/><path d="M1517.4 197.9 L1537.7 187.7 L1551.9 181.6 L1558 179.6 L1572.3 178.5 L1578.4 180.6 L1588.5 178.5 L1578.4 183 L1570.2 183 L1558 186.7 L1549.9 194.8 L1547.9 198.9 L1533.6 205 L1525.5 212.1 L1517.4 209.5 Z"/><path d="M1495 220.8 L1505.2 215.6 L1511.3 210.7 L1510.2 217.2 L1501.1 225.3 L1496 225.3 Z"/><path d="M1396.4 349.4 L1400.4 349 L1407.4 342.7 L1412.9 340.4 L1419.2 339.6 L1423.9 338 L1431 334.9 L1439.6 328.6 L1445.1 325.9 L1449 325.5 L1454.5 323.9 L1460 321.5 L1466.2 317.6 L1474.1 314.5 L1481.9 312.9 L1491.3 311.4 L1499.2 312.1 L1507 314.5 L1511.7 317.6 L1514.8 321.5 L1518 322.3 L1521.1 320 L1520.3 316.1 L1520.3 307.4 L1523.5 306.7 L1526.6 309 L1528.9 309.8 L1533.7 309 L1539.1 307.4 L1542.3 307.4 L1547.9 310.7 L1558 318.9 L1570.2 320.9 L1578.4 322.9 L1584.5 325 L1586.5 333.1 L1590.6 341.2 L1592.6 349.4 L1594.6 355.5 L1598.7 359.5 L1608.9 363.6 L1619 365.6 L1629.2 363.6 L1639.4 361.6 L1653.6 357.9 L1669.9 350.4 L1684.1 343.3 L1696.3 337.2 L1706.5 331.1 L1716.6 322.9 L1724.8 315.2 L1728.8 308.7 L1724.8 316.8 L1716.6 325 L1706.5 333.1 L1696.3 339.2 L1684.1 345.3 L1669.9 353.4 L1657.7 359.5 L1653.6 362.6 L1639.4 365.2 L1631.2 367.7 L1623.1 369.7 L1619 373.8 L1615 381.9 L1608.9 388 L1600.7 390 L1594.6 388 L1588.5 377.8 L1584.5 381.9 L1578.4 379.9 L1568.2 373.8 L1558 371.7 L1547.9 377.8 L1537.7 381.9 L1517.4 386 L1501.1 389 L1486.8 391.1 L1485.8 386 L1484.8 377.8 L1480.7 369.7 L1470.6 361.6 L1462.4 355.5 L1456.3 357.5 L1446.2 361.6 L1425.8 367.7 L1405.5 375.8 L1391.3 381.9 L1386.2 373.8 L1384.2 369.7 L1391.3 363.6 L1397.4 357.5 Z"/><path d="M1469.6 673.5 L1480.7 667.4 L1497 664 L1507.2 661.3 L1520.4 659.3 L1529.6 662.3 L1539.7 666.4 L1551.9 672.5 L1557 674.5 L1562.1 664.4 L1568.2 654.2 L1578.4 650.1 L1588.5 646.1 L1598.7 644 L1604.8 644 L1617 646.1 L1621.1 650.1 L1627.2 658.3 L1632.3 666.4 L1635.3 684.7 L1638.4 705 L1639.4 730.1 L1640.4 735.3 L1641.4 747.5 L1651.6 741.4 L1663.8 734.3 L1665.8 733.3 L1664.8 745.5 L1673.9 753.6 L1684.1 761.8 L1692.2 771.9 L1700.4 784.1 L1704.4 796.3 L1705.5 808.5 L1705.5 816.7 L1712.6 812.6 L1720.7 807.5 L1729.9 802.4 L1731.9 802.4 L1731.9 808.5 L1732.9 814.6 L1734.9 818.7 L1748.2 819.7 L1747.1 830.9 L1745.1 845.2 L1743.1 855.3 L1742.1 865.5 L1739 871.6 L1741 877.7 L1742.1 883.8 L1748.2 885.8 L1751.2 894 L1755.3 908.2 L1759.4 920.4 L1763.4 934.6 L1768.5 948.9 L1773.6 965.1 L1778.7 981.4 L1782.7 995.6 L1786.8 1009.9 L1790.9 1024.1 L1793.9 1036.3 L1796 1044.2 L1800 1054.4 L1801 1062.5 L1796 1066.6 L1792.9 1072.7 L1792.9 1091 L1791.9 1111.3 L1791.9 1131.7 L1792.9 1152 L1793.9 1168.3 L1796 1182.5 L1799 1192.7 L1802.1 1196.8 L1808.2 1200.8 L1811.2 1204.9 L1811.2 1223.2 L1810.2 1243.5 L1811.2 1263.9 L1810.2 1284.2 L1808.2 1304.5 L1806.1 1324.9 L1804.1 1339.1 L1802.1 1365.3 L1802.1 1385.7 L1802.1 1406 L1801 1426.3 L1799 1446.7 L1798 1467 L1796 1487.4 L1794.9 1507.7 L1794.9 1528 L1796 1540.2 L1798 1554.5 L1799 1568.7 L1798 1589 L1799 1605.3 L1798 1615.5 L1793.9 1623.6 L1785.8 1627.7 L1773.6 1629.7 L1761.4 1629.7 L1747.1 1627.7 L1739 1625.6 L1737 1633.8 L1732.9 1643.9 L1726.8 1648 L1716.6 1649 L1704.4 1650 L1692.2 1650 L1680 1652.1 L1667.8 1655.1 L1657.7 1657.2 L1651.6 1654.1 L1645.5 1648 L1641.4 1639.9 L1635.3 1637.8 L1627.2 1639.9 L1619 1643.9 L1608.9 1648 L1600.7 1650 L1593.6 1648 L1590.6 1641.9 L1588.5 1629.7 L1586.5 1617.5 L1582.4 1607.3 L1578.4 1599.2 L1572.3 1594.1 L1564.1 1591.1 L1558 1585 L1551.9 1578.9 L1546.8 1570.7 L1543.8 1560.6 L1540.7 1548.4 L1538.7 1536.2 L1539.7 1528 L1539.7 1517.9 L1536.7 1505.7 L1532.6 1491.4 L1529.6 1479.2 L1526.5 1467 L1523.5 1452.8 L1521.4 1436.5 L1519.4 1416.2 L1519.4 1404 L1527.5 1393.8 L1533.6 1388.7 L1541.8 1381.6 L1549.9 1373.5 L1557 1367.4 L1561.1 1363.3 L1559 1353.1 L1556 1335 L1554 1320.8 L1556 1310.6 L1557 1298.4 L1560.1 1288.3 L1558 1278.1 L1557 1263.9 L1557 1251.7 L1560.1 1243.5 L1564.1 1233.4 L1570.2 1221.2 L1578.4 1209 L1584.5 1202.9 L1583.4 1192.7 L1581.4 1182.5 L1578.4 1172.4 L1576.3 1162.2 L1575.3 1152 L1572.3 1143.9 L1558 1131.7 L1547.9 1119.5 L1545.8 1111.3 L1549.9 1101.2 L1556 1091 L1560.1 1082.9 L1557 1070.7 L1556 1060.5 L1559 1050.3 L1563.1 1042.2 L1565.1 1038.3 L1567.2 1028.2 L1569.2 1016 L1571.2 1003.8 L1573.3 991.6 L1575.3 979.4 L1577.3 971.2 L1580.4 959 L1580.4 948.9 L1578.4 938.7 L1576.3 930.6 L1573.3 922.4 L1568.2 914.3 L1562.1 908.2 L1556 902.1 L1549.9 894 L1543.8 883.8 L1537.7 873.6 L1533.6 865.5 L1532.6 857.4 L1535.7 855.3 L1534.6 847.2 L1533.6 837 L1529.6 828.9 L1525.5 818.7 L1519.4 808.5 L1513.3 798.4 L1507.2 788.2 L1502.1 778 L1500.1 774 L1502.1 769.9 L1501.1 761.8 L1502.1 751.6 L1499 745.5 L1492.9 735.3 L1485.8 723.1 L1482.8 717.2 L1478.7 705 L1474.6 692.8 L1470.6 680.6 Z"/></g>
<g fill="#bdbdbd"><path d="M1499.9 395.1 L1504.1 390.9 L1513.5 387.3 L1515.6 390.9 L1518.7 403.5 L1528.2 401.4 L1531.3 411.9 L1537.6 414 L1538.6 418.2 L1563.8 414.5 L1565.9 416.1 L1566.4 424.5 L1575.3 424.5 L1576.3 432.8 L1574.2 434.9 L1565.9 437 L1564.8 427.6 L1540.7 429.7 L1541.8 434.9 L1543.9 443.3 L1546 453.8 L1546.5 462.1 L1548.1 470.5 L1552.3 477.9 L1557.5 486.2 L1561.7 491.5 L1563.8 495.1 L1555.4 500.9 L1557.5 504 L1551.2 505.1 L1549.3 510.3 L1551.2 516.6 L1555.4 520.8 L1559.6 523.9 L1560.6 531.3 L1557.5 533.4 L1553.3 526 L1549.1 516.6 L1547 508.2 L1542.8 498.8 L1538.6 492.5 L1532.4 485.2 L1527.1 477.9 L1524 473.7 L1523.5 464.2 L1521.9 451.7 L1519.8 437 L1514.6 428.6 L1510.4 424.5 L1506.2 418.2 L1504.6 411.9 L1502 407.7 L1498.8 401.4 Z"/><path d="M1485.2 426.5 L1497.8 424.5 L1498.8 421.3 L1503 419.2 L1507.2 427.6 L1510.4 434.9 L1511.4 439.1 L1511.4 462.1 L1507.2 463.2 L1505.1 459 L1500.9 437 L1498.8 430.7 L1486.3 431.8 Z"/><path d="M1628.8 462.2 L1636 461.6 L1642.1 463.3 L1640.4 470.5 L1648.2 472.2 L1649.3 481 L1651.5 482.2 L1651.5 485.5 L1656.5 511 L1656.5 516.5 L1654.9 522.1 L1652.6 523.2 L1652.1 521.5 L1643.2 521.5 L1642.1 518.7 L1637.7 518.7 L1636 515.4 L1633.8 511 L1633.2 505.4 L1628.8 485.5 L1628.2 472.2 Z"/><path d="M1618.8 530 L1621.5 527.8 L1622.7 529.5 L1620 531.5 Z"/><path d="M1574.5 620.8 L1582.4 619.4 L1583.4 624.8 L1585.3 639.6 L1586.3 651.4 L1593.2 656.3 L1595.2 663.2 L1595.2 669.1 L1601.1 674.1 L1603.1 679 L1599.1 682.9 L1593.2 684.9 L1593.2 691.8 L1589.3 695.8 L1584.4 694.8 L1581.4 688.9 L1579.4 682.9 L1572.5 679 L1568.6 681 L1563.7 679 L1559.7 674.1 L1556.8 669.1 L1561.7 666.2 L1566.6 660.3 L1564.6 654.4 L1559.7 649.4 L1556.8 642.5 L1555.8 636.6 L1558.7 634.6 L1559.7 637.6 L1565.6 638.6 L1569.6 634.6 L1573.5 629.7 Z"/><path d="M1590.3 637.6 L1597.2 635.6 L1599.1 634.6 L1601.1 639.6 L1603.1 649.4 L1605.1 659.3 L1607 660.3 L1605.1 662.2 L1602.1 657.3 L1599.1 651.4 L1596.2 644.5 L1592.2 641.5 Z"/><path d="M1628.7 666.2 L1645.5 666.2 L1645.5 711.5 L1639.6 711.5 L1637.6 698.7 L1632.7 688.9 L1630.7 679 L1626.7 671.1 Z"/><path d="M1604.1 642.8 L1621.2 644.8 L1629.4 665 L1628 665.6 L1620.3 646.2 L1604.1 644.3 Z"/><path d="M1552 718.8 L1554.3 705.5 L1559.8 694.4 L1563.7 692.8 L1564.2 698.8 L1559.8 708.8 L1556.8 712 L1553.5 717.5 Z"/><path d="M1542 643.5 L1543.9 642.5 L1545.9 649.4 L1547.9 651.4 L1552.8 651.4 L1553.8 653.4 L1549.9 655.3 L1546.9 653.4 L1544.9 649.4 Z"/><path d="M1649.4 710.5 L1658.3 710.5 L1658.3 716 L1663.2 716.5 L1663.7 726.3 L1659.3 726.8 L1658.3 724.3 L1649.4 723.4 Z"/><path d="M1729.9 636.9 L1752.3 637.9 L1749.2 647.1 L1740.1 647.1 L1739 686.8 L1732.9 685.7 L1730.9 656.3 L1728.9 648.2 Z"/><path d="M1653.9 864.4 L1668.7 859.2 L1683.5 854.8 L1702.7 851.1 L1704 835 L1707 816 L1712.5 813 L1715.5 825 L1716 842 L1719 848.9 L1722 851.8 L1716 857.7 L1714.6 868.1 L1722 868.1 L1733.8 869.6 L1736.7 877 L1733.8 888.8 L1722 893.2 L1713.1 894.7 L1698.3 899.2 L1686.5 903.6 L1682 908 L1686.5 913.9 L1690.9 922.8 L1696.8 930.2 L1704.2 934.6 L1710.1 937.6 L1716 940.6 L1769.3 952.4 L1772.2 965.7 L1775.2 980.5 L1776.7 987.9 L1769.3 992.3 L1760.4 993.8 L1757.5 1002.7 L1756 1017.4 L1754.5 1029.3 L1758.9 1035.2 L1772.2 1042.6 L1784.1 1047 L1791.5 1051.5 L1795.9 1057.4 L1798.9 1061.8 L1792.9 1064.8 L1785 1058 L1772 1050 L1762 1045 L1753 1042 L1740 1051 L1727 1063 L1716 1072 L1709 1072.5 L1707.2 1069.2 L1704.2 1054.4 L1701.3 1039.6 L1695.3 1024.8 L1689.4 1010.1 L1683.5 995.3 L1680.6 982 L1679.1 965.7 L1674.6 952.4 L1668.7 937.6 L1664.3 922.8 L1659.9 908 L1658.4 896.2 L1656.9 881.4 L1653.9 869.6 Z"/><path d="M1595.2 941.8 L1597.7 934.6 L1609.6 925.8 L1621.4 921.3 L1630.3 919.9 L1636.2 922.8 L1639.1 931.7 L1642.1 940.6 L1645.1 943.5 L1656.9 970.1 L1659.9 982 L1665.8 987.9 L1667.2 995.3 L1670.2 1002.7 L1668.7 1010.1 L1661.3 1011.5 L1662.8 1017.4 L1667.2 1021.9 L1674.6 1026.3 L1680.6 1030.8 L1677.6 1033.7 L1668.7 1033.7 L1656.9 1032.2 L1652.5 1026.3 L1649.5 1020.4 L1645.1 1014.5 L1642.1 1007.1 L1636.2 1005.6 L1633.2 1001.2 L1639.1 999.7 L1648 998.2 L1652.5 998.2 L1649.5 993.8 L1642.1 992.3 L1633.2 993.8 L1628.8 996.7 L1624.4 990.8 L1618.4 987.9 L1609.6 987.9 L1603.7 985 L1600.7 979 L1599.6 961.8 L1597.4 952.9 Z"/><path d="M1609.6 1004.1 L1615.5 1002.7 L1621.4 1010.1 L1622.9 1017.4 L1622.9 1027.8 L1618.4 1029.3 L1615.5 1020.4 L1612.5 1011.5 Z"/><path d="M1588.5 298.5 L1598.7 296.5 L1608.9 294.5 L1619 292.4 L1621.1 289.4 L1623.1 294.5 L1627.2 296.5 L1639.4 296.5 L1639.4 300.6 L1629.2 302.6 L1619 304.6 L1619 318.9 L1608.9 322.9 L1598.7 322.9 L1590.6 318.9 L1586.5 308.7 Z"/><path d="M1559 269 L1563.1 270.1 L1562.5 273.7 L1558.6 273.1 Z"/><path d="M1545.8 381.9 L1558 380.9 L1565.1 382.3 L1566.6 388 L1566.2 392.5 L1558 391.1 L1547.9 388 L1544.8 385 Z"/><path d="M1575.3 392.1 L1580.4 392.5 L1580 394.5 L1575.3 394.1 Z"/><path d="M1570.2 489.5 L1572.3 490.5 L1571.9 494 L1570.2 493.5 Z"/><path d="M1562.5 545.4 L1564.5 544.8 L1566.6 550.9 L1565.1 551.7 Z"/></g>
<path d="M1594.4 110.8 L1604 101.2 L1612 97.6 L1617.6 102 L1620.8 106 L1628.1 109.2 L1635.3 117.2 L1642.5 125.2 L1647.3 130 L1648.9 134.9 L1651.3 142.9 L1653.7 150.9 L1654.5 155.7 L1649.7 152.5 L1645.7 154.1 L1644.1 160.5 L1639.3 160.5 L1637.7 155.7 L1636.1 152.5 L1628.1 152.5 L1626.5 147.7 L1627.3 139.7 L1631.3 134.9 L1628.1 126 L1624.1 122 L1621.6 118.8 L1616.8 116.4 L1621.6 126 L1616.8 131.6 L1610.4 133.2 L1605.6 133.6 L1600.8 130.8 L1592 131.6 L1592 122 Z" fill="#1018d4"/>
<path d="M1592 178.1 L1600 171.7 L1604 172.5 L1605.6 176.5 L1613.6 180.5 L1624.9 182.1 L1636.1 181.3 L1646.5 178.1 L1653.7 174.1 L1661.7 169.3 L1668.1 164.5 L1672.1 160.5 L1677.7 166.9 L1684.1 174.9 L1692.1 186.1 L1696.9 196.5 L1700.9 203.7 L1701.7 210.1 L1695.3 210.9 L1690.5 210.1 L1680.1 212.5 L1668.1 214.9 L1660.1 211.7 L1653.7 206.1 L1644.1 204.5 L1636.1 200.5 L1629.7 204.5 L1624.1 196.5 L1620 188.5 L1613.6 182.9 L1606.4 179.7 L1596 180.5 Z M1666.5 179.7 L1672.1 178.1 L1676.1 184.5 L1676.1 190.9 L1686.5 198.9 L1680.1 195.7 L1672.1 190.1 L1660.1 191.7 L1652.1 190.1 L1648.1 194.1 L1644.1 190.9 L1652.1 186.1 L1660.1 182.1 Z" fill="#1018d4" fill-rule="evenodd"/>
<g fill="#dc78c8" ><path d="M1679 213.1 L1688.2 212.1 L1694.3 211.1 L1695.3 215.2 L1689.2 216.8 L1686.1 219.2 L1684.1 221.7 L1681.1 219.2 Z"/></g>
<g fill="#c864c8" ><path d="M1470 673.3 L1476.6 667.7 L1488.8 665.5 L1496.6 666.6 L1498.8 672.2 L1496.6 683.3 L1497.7 692.1 L1502.1 703.2 L1506.6 712.1 L1511 721 L1515.5 729.8 L1518.8 738.7 L1522.1 743.2 L1528.8 738.7 L1537.6 734.3 L1544.3 727.6 L1546.5 722.1 L1548.7 727.6 L1552 738.7 L1556.5 749.8 L1560.9 760.9 L1566.5 772 L1570.9 783.1 L1576.4 794.2 L1582 803 L1587.5 810.8 L1590.9 818.6 L1591.7 820 L1594.7 829.9 L1598.6 844.7 L1604.5 857.5 L1608.5 869.3 L1614.4 879.2 L1618.3 889 L1622.3 897.9 L1627.2 902.8 L1624.3 904.8 L1618.3 906.8 L1616.4 912.7 L1617.4 917.6 L1613.4 919.6 L1604.5 922.6 L1597.6 924.5 L1598.6 928.5 L1600.6 934.4 L1594.7 938.3 L1588.8 944.3 L1582.8 948.2 L1578.9 946.2 L1577.9 940.3 L1576.9 938.3 L1575 928.5 L1572 921.6 L1567.1 914.7 L1559.2 906.8 L1553.3 899.9 L1546.4 889 L1540.4 879.2 L1535.5 869.3 L1532.5 861.4 L1533.5 856.5 L1534.5 849.6 L1532.5 839.7 L1528.6 829.9 L1522.7 820 L1517.7 810.8 L1513.2 799.7 L1507.7 788.6 L1503.3 777.5 L1501 769.8 L1502.1 760.9 L1501 749.8 L1496.6 738.7 L1491.1 727.6 L1484.4 714.3 L1478.9 699.9 L1473.3 686.6 L1466.7 672.2 Z"/><path d="M1727.8 804.5 L1730.9 802.4 L1732.9 814.6 L1734.9 818.7 L1748.2 819.7 L1747.1 830.9 L1743.1 855.3 L1739 867.5 L1732.9 869.6 L1734.9 857.4 L1739 845.2 L1737 832.9 L1730.9 820.7 L1728.8 812.6 Z"/><path d="M1658.4 949.4 L1662.8 952.4 L1668.7 961.3 L1674.6 967.2 L1677.6 976 L1676.1 983.4 L1671.7 990.8 L1667.2 986.4 L1664.3 977.5 L1661.3 965.7 Z"/><path d="M1610.9 727.2 L1613.9 727.2 L1618 755.7 L1615 756.7 Z"/><path d="M1645.5 869.6 L1648.5 867.5 L1651.6 877.7 L1648.5 879.7 Z"/><path d="M1639.4 908.2 L1641.8 907.2 L1647.5 938.7 L1645.1 939.7 Z"/><path d="M1598.7 717.2 L1601.7 717.2 L1604.8 730.1 L1601.7 730.1 Z"/></g>
<g fill="#ee10b4" ><path d="M1400.4 349 L1407.4 342.7 L1412.9 340.4 L1419.2 339.6 L1423.9 338 L1431 334.9 L1439.6 328.6 L1445.1 325.9 L1449 325.5 L1454.5 323.9 L1460 321.5 L1466.2 317.6 L1474.1 314.5 L1481.9 312.9 L1491.3 311.4 L1499.2 312.1 L1507 314.5 L1511.7 317.6 L1514.8 321.5 L1518 322.3 L1521.1 320 L1520.3 316.1 L1520.3 307.4 L1523.5 306.7 L1526.6 309 L1528.9 309.8 L1533.7 309 L1539.1 307.4 L1542.3 307.4 L1542.3 319.2 L1540.7 323.1 L1532.9 324.7 L1525 325.5 L1519.5 324.7 L1514.8 324.7 L1511.7 320.8 L1507 316.8 L1500.7 315.3 L1492.1 315.3 L1481.9 317.6 L1474.1 320.8 L1466.2 324.7 L1460.7 327 L1455.3 328.6 L1449 330.2 L1442.7 334.9 L1436.4 339.6 L1431 342.7 L1423.9 345.1 L1417.6 346.6 L1411.4 346.6 L1405.9 348.2 L1401.2 349.8 Z"/><path d="M1587.5 369.7 L1592.6 368.7 L1596.7 373.8 L1602.8 377.8 L1608.9 379.9 L1612.9 383.9 L1608.9 388 L1600.7 389 L1594.6 386 L1590.6 377.8 Z"/></g>
<g fill="#b4d82c" ><path d="M1594.6 369.7 L1602.8 373.8 L1610.9 375.8 L1617 371.7 L1621.1 367.7 L1619 373.8 L1612.9 381.9 L1604.8 379.9 L1596.7 375.8 Z"/><path d="M1712.6 325 L1718.7 320.9 L1721.7 317.8 L1720.7 321.9 L1714.6 327 Z"/></g>
<g fill="#7843e4" ><path d="M1540 1385.5 L1553 1385.6 L1562.4 1388.1 L1571.6 1391.1 L1577.8 1394.2 L1581 1398.5 L1585 1405 L1587.5 1400 L1587.5 1386 L1584 1376 L1579 1370.2 L1587 1375.7 L1596.3 1372 L1605.5 1366.5 L1614.7 1364.6 L1618.4 1355.4 L1620.9 1347.4 L1622.8 1355.4 L1618.4 1367.7 L1617.2 1383.1 L1614.7 1398.5 L1611 1407.8 L1614.7 1417 L1618.4 1426.3 L1625.1 1430.1 L1625.1 1444.4 L1623.3 1458.7 L1616.1 1465.8 L1628.6 1469.4 L1639.4 1478.4 L1650.1 1480.1 L1653.7 1473 L1657.2 1455.1 L1660.8 1435.5 L1664.4 1417.6 L1668 1401.5 L1671.5 1383.7 L1673.3 1365.8 L1676.9 1351.5 L1678.7 1330.1 L1669.7 1322.9 L1657.2 1337.2 L1650.1 1326.5 L1660.8 1312.2 L1671.5 1303.3 L1684 1297.9 L1682.2 1287.2 L1685.8 1274.7 L1693 1283.6 L1700.1 1294.3 L1701.9 1305 L1703.7 1319.3 L1705.5 1330.1 L1709 1339 L1721.6 1351.5 L1725.1 1362.2 L1732.3 1358.6 L1739.4 1344.3 L1743 1330.1 L1741.2 1310.4 L1739.4 1292.5 L1741.2 1274.7 L1735.8 1256.8 L1750.1 1251.4 L1764.4 1244.3 L1769.8 1240.7 L1771.6 1255 L1785.9 1258.6 L1803.7 1260.4 L1810.9 1258.6 L1810 1265.7 L1809.1 1283.6 L1809.1 1301.5 L1808.2 1319.3 L1806.4 1337.2 L1804.6 1346.1 L1800.2 1355.1 L1800.2 1372.9 L1802 1390.8 L1802.8 1408.7 L1802.8 1426.5 L1803.7 1435.5 L1802 1453.3 L1799.3 1471.2 L1797.5 1489.1 L1796.6 1506.9 L1795.7 1520 L1794.9 1528 L1796 1540.2 L1798 1554.5 L1799 1568.7 L1798 1589 L1799 1605.3 L1798 1615.5 L1793.9 1623.6 L1785.8 1627.7 L1773.6 1629.7 L1761.4 1629.7 L1747.1 1627.7 L1739 1625.6 L1737 1633.8 L1732.9 1643.9 L1726.8 1648 L1716.6 1649 L1704.4 1650 L1692.2 1650 L1680 1652.1 L1667.8 1655.1 L1657.7 1657.2 L1651.6 1654.1 L1645.5 1648 L1641.4 1639.9 L1635.3 1637.8 L1627.2 1639.9 L1619 1643.9 L1608.9 1648 L1600.7 1650 L1593.6 1648 L1590.6 1641.9 L1588.5 1629.7 L1586.5 1617.5 L1582.4 1607.3 L1578.4 1599.2 L1572.3 1594.1 L1564.1 1591.1 L1558 1585 L1551.9 1578.9 L1546.8 1570.7 L1543.8 1560.6 L1540.7 1548.4 L1538.7 1536.2 L1539.7 1528 L1539.7 1517.9 L1535.7 1506.9 L1532.2 1489.1 L1528.6 1471.2 L1525 1453.3 L1521.4 1435.5 L1519.7 1417.6 L1519.7 1403.3 L1532.2 1390.8 Z"/><path d="M1540.8 1385 L1548.2 1378.2 L1556.2 1374.5 L1559.3 1380 L1553.1 1383.1 L1547 1386.2 Z"/><path d="M1557.2 1308.6 L1578.6 1317.5 L1571.5 1319.3 L1559 1322.9 Z"/><path d="M1557.2 1335.4 L1567.9 1337.2 L1560.7 1344.3 L1557.2 1346.1 Z"/></g>
<g fill="#e43a36" ><path d="M1519.2 1403.5 L1528.5 1395.5 L1537.7 1388.1 L1543.9 1385.6 L1553.1 1385.6 L1562.4 1388.1 L1571.6 1391.1 L1577.8 1394.2 L1580.9 1398.5 L1583.9 1401.6 L1587 1414 L1583.9 1429.3 L1583.3 1440 L1587.5 1458.7 L1591.1 1462.3 L1587.5 1467.6 L1578.6 1474.8 L1575 1487.3 L1567.9 1498 L1557.2 1503.4 L1555.4 1515.9 L1551.8 1520 L1537.5 1518 L1535.7 1506.9 L1532.2 1489.1 L1528.6 1471.2 L1525 1453.3 L1521.4 1435.5 L1519.7 1417.6 Z"/><path d="M1675.1 1351.5 L1689.4 1349.7 L1701.9 1355.1 L1710.8 1365.8 L1718 1376.5 L1721.6 1390.8 L1721.6 1401.5 L1718 1410.5 L1712.6 1414 L1705.5 1419.4 L1700.1 1424.8 L1701.9 1430.1 L1696.5 1440.8 L1689.4 1444.4 L1684 1453.3 L1682.2 1465.8 L1678.7 1476.6 L1671.5 1483.7 L1668 1492.6 L1664.4 1498 L1660.8 1494.4 L1659 1480.1 L1657.2 1462.3 L1660.8 1444.4 L1664.4 1426.5 L1666.2 1408.7 L1669.7 1390.8 L1671.5 1372.9 Z"/><path d="M1743.6 1286.7 L1760 1274 L1776.8 1264.6 L1780 1275 L1781 1286.7 L1779.1 1299 L1768.5 1307.5 L1758 1304 L1747.7 1299.2 Z"/><path d="M1737.6 1378.3 L1746.6 1374.7 L1759.1 1369.4 L1768 1360.4 L1773.4 1351.5 L1782.3 1347.9 L1791.2 1353.3 L1798.4 1360.4 L1800.2 1372.9 L1802 1390.8 L1802.8 1408.7 L1802 1426.5 L1794.8 1433.7 L1782.3 1437.3 L1789.4 1444.4 L1782.3 1451.6 L1775.2 1458.7 L1768 1462.3 L1764.4 1453.3 L1760.9 1444.4 L1750.1 1440.8 L1737.6 1437.3 L1730.5 1426.5 L1734.1 1417.6 L1737.6 1408.7 L1735.8 1399.7 L1732.3 1390.8 Z"/></g>
<path d="M1610.8 685.5 L1615 698 L1619.7 712.1 L1622 730 L1624.1 749.8 L1626.4 772 L1625 786 L1623 799.7" fill="none" stroke="#c864c8" stroke-width="3.6" stroke-dasharray="4 2.5"/>
<g clip-path="url(#cZ)"><use href="#hl" fill="none" stroke="#000" stroke-opacity="0.13" stroke-width="2.7"/><use href="#hl" fill="none" stroke="#fcdcfc" stroke-width="1.6"/></g>
<clipPath id="cBH"><path d="M1666.5 179.7 L1672.1 178.1 L1676.1 184.5 L1676.1 190.9 L1686.5 198.9 L1680.1 195.7 L1672.1 190.1 L1660.1 191.7 L1652.1 190.1 L1648.1 194.1 L1644.1 190.9 L1652.1 186.1 L1660.1 182.1 Z"/></clipPath>
<path d="M1666.5 179.7 L1672.1 178.1 L1676.1 184.5 L1676.1 190.9 L1686.5 198.9 L1680.1 195.7 L1672.1 190.1 L1660.1 191.7 L1652.1 190.1 L1648.1 194.1 L1644.1 190.9 L1652.1 186.1 L1660.1 182.1 Z" fill="#fff"/>
<g clip-path="url(#cBH)"><use href="#hl" fill="none" stroke="#a0a0a0" stroke-width="1.4"/></g>
<path d="M1612.8 95.2 L1617.6 101.2 L1620.8 105.2 L1628.1 108.4 L1636.1 116.4 L1642.5 124.4 L1648.9 130.8 L1654.5 134.1 L1660.1 138.1 L1667.3 146.1 L1671.3 151.7 L1672.9 159.7 L1677.7 166.9 L1684.1 174.9 L1691.3 186.1 L1696.9 196.5 L1701.7 203.7 L1704.9 208.5 L1706.5 214.9 L1707.3 220 L1710.5 225.3 L1713.6 233.5 L1709.5 236.5 L1708.5 245.7 L1709.5 254.8 L1712.6 257.9 L1721.7 258.3 L1724.8 264 L1725.8 276.2 L1725.8 288.4 L1726.8 298.5 L1730.5 303.6 L1728.8 308.7 L1724.8 316.8 L1716.6 325 L1706.5 333.1 L1696.3 339.2 L1684.1 345.3 L1669.9 353.4 L1657.7 359.5 L1653.6 362.6 L1655.6 365.6 L1659.7 373.8 L1665.8 383.9 L1671.9 396.1 L1678 410.4 L1686.1 420.3 L1696.3 428.5 L1708.5 440.7 L1720.7 454.9 L1730.9 469.1 L1739 485.4 L1745.1 501.7 L1753.2 517.9 L1754.3 530.2 L1757.3 546.4 L1760.4 560.7 L1761.4 568.8 L1755.3 574.9 L1753.2 583 L1751.2 595.2 L1752.2 603.4 L1755.3 609.5 L1757.3 623.7 L1757.3 644 L1755.3 664.4 L1754.3 684.7 L1753.2 703 L1748.2 709.1 L1746.1 715.2 L1745.1 731.3 L1746.1 749.6 L1747.1 763.8 L1750.2 776 L1753.2 786.2 L1754.3 796.3 L1747.1 798.4 L1737 800.4 L1731.9 802.4 L1731.9 808.5 L1732.9 814.6 L1734.9 818.7 L1748.2 819.7 L1747.1 830.9 L1745.1 845.2 L1743.1 855.3 L1742.1 865.5 L1739 871.6 L1741 877.7 L1742.1 883.8 L1748.2 885.8 L1751.2 894 L1755.3 908.2 L1759.4 920.4 L1763.4 934.6 L1768.5 948.9 L1773.6 965.1 L1778.7 981.4 L1782.7 995.6 L1786.8 1009.9 L1790.9 1024.1 L1793.9 1036.3 L1796 1044.2 L1800 1054.4 L1801 1062.5 L1796 1066.6 L1792.9 1072.7 L1792.9 1091 L1791.9 1111.3 L1791.9 1131.7 L1792.9 1152 L1793.9 1168.3 L1796 1182.5 L1799 1192.7 L1802.1 1196.8 L1808.2 1200.8 L1811.2 1204.9 L1811.2 1223.2 L1810.2 1243.5 L1811.2 1263.9 L1810.2 1284.2 L1808.2 1304.5 L1806.1 1324.9 L1804.1 1339.1 L1802.1 1365.3 L1802.1 1385.7 L1802.1 1406 L1801 1426.3 L1799 1446.7 L1798 1467 L1796 1487.4 L1794.9 1507.7 L1794.9 1528 L1796 1540.2 L1798 1554.5 L1799 1568.7 L1798 1589 L1799 1605.3 L1798 1615.5 L1793.9 1623.6 L1785.8 1627.7 L1773.6 1629.7 L1761.4 1629.7 L1747.1 1627.7 L1739 1625.6 L1737 1633.8 L1732.9 1643.9 L1726.8 1648 L1716.6 1649 L1704.4 1650 L1692.2 1650 L1680 1652.1 L1667.8 1655.1 L1657.7 1657.2 L1651.6 1654.1 L1645.5 1648 L1641.4 1639.9 L1635.3 1637.8 L1627.2 1639.9 L1619 1643.9 L1608.9 1648 L1600.7 1650 L1593.6 1648 L1590.6 1641.9 L1588.5 1629.7 L1586.5 1617.5 L1582.4 1607.3 L1578.4 1599.2 L1572.3 1594.1 L1564.1 1591.1 L1558 1585 L1551.9 1578.9 L1546.8 1570.7 L1543.8 1560.6 L1540.7 1548.4 L1538.7 1536.2 L1539.7 1528 L1539.7 1517.9 L1536.7 1505.7 L1532.6 1491.4 L1529.6 1479.2 L1526.5 1467 L1523.5 1452.8 L1521.4 1436.5 L1519.4 1416.2 L1519.4 1404 L1527.5 1393.8 L1533.6 1388.7 L1541.8 1381.6 L1549.9 1373.5 L1557 1367.4 L1561.1 1363.3 L1559 1353.1 L1556 1335 L1554 1320.8 L1556 1310.6 L1557 1298.4 L1560.1 1288.3 L1558 1278.1 L1557 1263.9 L1557 1251.7 L1560.1 1243.5 L1564.1 1233.4 L1570.2 1221.2 L1578.4 1209 L1584.5 1202.9 L1583.4 1192.7 L1581.4 1182.5 L1578.4 1172.4 L1576.3 1162.2 L1575.3 1152 L1572.3 1143.9 L1558 1131.7 L1547.9 1119.5 L1545.8 1111.3 L1549.9 1101.2 L1556 1091 L1560.1 1082.9 L1557 1070.7 L1556 1060.5 L1559 1050.3 L1563.1 1042.2 L1565.1 1038.3 L1567.2 1028.2 L1569.2 1016 L1571.2 1003.8 L1573.3 991.6 L1575.3 979.4 L1577.3 971.2 L1580.4 959 L1580.4 948.9 L1578.4 938.7 L1576.3 930.6 L1573.3 922.4 L1568.2 914.3 L1562.1 908.2 L1556 902.1 L1549.9 894 L1543.8 883.8 L1537.7 873.6 L1533.6 865.5 L1532.6 857.4 L1535.7 855.3 L1534.6 847.2 L1533.6 837 L1529.6 828.9 L1525.5 818.7 L1519.4 808.5 L1513.3 798.4 L1507.2 788.2 L1502.1 778 L1500.1 774 L1502.1 769.9 L1501.1 761.8 L1502.1 751.6 L1499 745.5 L1492.9 735.3 L1485.8 723.1 L1482.8 717.2 L1478.7 705 L1474.6 692.8 L1470.6 680.6 L1464.5 666.4 L1456.3 652.2 L1448.2 635.9 L1440.1 621.7 L1436 609.5 L1433 600.3 L1421.8 587.1 L1410.6 572.9 L1405.9 562.7 L1407.1 542.4 L1406.5 526.1 L1404.5 501.7 L1402.5 477.3 L1400.4 456.9 L1397.4 444.7 L1395.3 434.6 L1401.4 422.4 L1406.5 410.2 L1407.5 402.2 L1405.5 394.1 L1401.4 390 L1395.3 386 L1391.3 379.9 L1386.2 373.8 L1384.2 369.7 L1391.3 363.6 L1397.4 357.5 L1396.4 349.4 L1394.3 341.2 L1395.3 333.1 L1399.4 322.9 L1405.5 314.8 L1411.6 312.8 L1415.7 307.7 L1427.9 300.6 L1442.1 294.5 L1456.3 288.4 L1464.5 285.3 L1469.6 282.3 L1466.5 272.1 L1461.4 264 L1462.4 255.8 L1464.5 247.7 L1468.5 238.5 L1476.7 231.4 L1484.8 224.3 L1495 220.2 L1505.2 215.2 L1511.3 210.1 L1516.3 206 L1517.4 197.9 L1537.7 187.7 L1551.9 181.6 L1558 179.6 L1572.3 178.5 L1578.4 180.6 L1588.5 178.5 L1591.2 176.5 L1595.2 173.3 L1599.2 166.9 L1598.4 164.5 L1593.6 160.5 L1592 154.1 L1591.2 142.1 L1590.8 128.4 L1592 116.4 L1593.6 109.2 L1596 106 L1601.6 102 L1607.2 98 Z" fill="none" stroke="#1e1e1e" stroke-width="2.3" stroke-dasharray="10 3.4" stroke-linejoin="round"/>
<path d="M1641.4 747.5 L1651.6 741.4 L1663.8 734.3 L1665.8 733.3 L1664.8 745.5 L1673.9 753.6 L1684.1 761.8 L1692.2 771.9 L1700.4 784.1 L1704.4 796.3 L1705.5 808.5 L1704.4 822.8 L1703.4 837 L1703.4 850.2 L1692.2 852.3 L1680 854.3 L1668.9 856.3 L1667.8 859.4 L1653.6 863.5 L1647.5 847.2 L1639.4 828.9 L1631.2 806.5 L1626.1 792.3 L1626.1 780.1 L1628.2 771.9 L1641.4 774 L1641.4 765.8 L1640.4 755.7 Z" fill="none" stroke="#1e1e1e" stroke-width="2.3" stroke-dasharray="10 3.4" stroke-linejoin="round"/>
<text x="1546.0" y="320.5" font-size="30" textLength="130.0" lengthAdjust="spacingAndGlyphs" fill="#333" stroke="#fff" stroke-opacity="0.6" stroke-width="5" paint-order="stroke" stroke-linejoin="round">Feldioara</text>
<text x="1449.2" y="457.8" font-size="30" textLength="166.8" lengthAdjust="spacingAndGlyphs" fill="#333" stroke="#fff" stroke-opacity="0.6" stroke-width="5" paint-order="stroke" stroke-linejoin="round">Ucea De Jos</text>
<text x="1604.0" y="505.8" font-size="30" textLength="76.0" lengthAdjust="spacingAndGlyphs" fill="#333" stroke="#fff" stroke-opacity="0.6" stroke-width="5" paint-order="stroke" stroke-linejoin="round">Corbi</text>
<text x="1481.0" y="965" font-size="30" textLength="176.0" lengthAdjust="spacingAndGlyphs" fill="#333" stroke="#fff" stroke-opacity="0.6" stroke-width="5" paint-order="stroke" stroke-linejoin="round">Ucea De Sus</text>
<text x="1716.0" y="950.3" font-size="30" textLength="106.4" lengthAdjust="spacingAndGlyphs" fill="#333" stroke="#fff" stroke-opacity="0.6" stroke-width="5" paint-order="stroke" stroke-linejoin="round">Victoria</text>
</g>
<text x="129.4" y="116.9" font-size="32" font-weight="normal" textLength="511.6" lengthAdjust="spacingAndGlyphs" fill="#000" stroke="#000" stroke-width="0.4">Propuneri de Zone de Protecție Strictă</text>
<text x="307.0" y="153.4" font-size="32" font-weight="normal" textLength="164.6" lengthAdjust="spacingAndGlyphs" fill="#000" stroke="#000" stroke-width="0.4">în UAT Ucea</text>
<text x="291.7" y="190.1" font-size="32" font-weight="normal" textLength="194.0" lengthAdjust="spacingAndGlyphs" fill="#000" stroke="#000" stroke-width="0.4">județul Brașov</text>
<g>
<text x="394.3" y="267.3" font-size="26" fill="#d9d9d9" text-anchor="middle">N</text>
<circle cx="395.3" cy="317.2" r="30.4" fill="#fff" stroke="#222" stroke-width="3.2"/>
<circle cx="395.3" cy="316.8" r="25.5" fill="none" stroke="#999" stroke-width="0.9"/>
<path d="M395.3 271 L365.5 348.5 L395.3 319.5 Z" fill="#bcbcbc"/>
<path d="M395.3 271 L425.1 348.5 L395.3 319.5 Z" fill="#dcdcdc"/>
<path d="M395.3 271 L365.5 348.5 L395.3 319.5 L425.1 348.5 Z" fill="none" stroke="#222" stroke-width="3.4" stroke-linejoin="miter"/>
</g>
<text x="92.8" y="520.5" font-size="31.5" font-weight="bold" textLength="145.8" lengthAdjust="spacingAndGlyphs" fill="#000" stroke="#000" stroke-width="0.4">LEGENDĂ</text>
<clipPath id="cLB"><rect x="96" y="552.5" width="86.5" height="35.5"/></clipPath>
<g clip-path="url(#cLB)"><path d="M90.00 549.94L94.94 545.00M90.00 559.72L104.72 545.00M90.00 569.51L114.51 545.00M90.00 579.30L124.30 545.00M90.00 589.08L134.08 545.00M93.86 595.00L143.86 545.00M103.65 595.00L153.65 545.00M113.43 595.00L163.43 545.00M123.22 595.00L173.22 545.00M133.00 595.00L183.00 545.00M142.79 595.00L190.00 547.79M152.58 595.00L190.00 557.58M162.36 595.00L190.00 567.36M172.14 595.00L190.00 577.14M181.93 595.00L190.00 586.93" fill="none" stroke="#a8a8a8" stroke-width="1.4"/></g>
<text x="199.0" y="582" font-size="32" font-weight="normal" textLength="430.4" lengthAdjust="spacingAndGlyphs" fill="#000" stroke="#000" stroke-width="0.4">Arii Naturale Protejate existente</text>
<rect x="96.5" y="608" width="85.5" height="34" fill="none" stroke="#333" stroke-width="2" stroke-dasharray="8 3.5"/>
<text x="199.0" y="636" font-size="32" font-weight="normal" textLength="224.6" lengthAdjust="spacingAndGlyphs" fill="#000" stroke="#000" stroke-width="0.4">Limită UAT Ucea</text>
<rect x="96" y="663" width="86" height="34" fill="#bdbdbd"/>
<text x="199.0" y="690.6" font-size="32" font-weight="normal" textLength="250.8" lengthAdjust="spacingAndGlyphs" fill="#000" stroke="#000" stroke-width="0.4">Intravilan localități</text>
<text x="92.2" y="788.8" font-size="31.5" font-weight="bold" textLength="142.3" lengthAdjust="spacingAndGlyphs" fill="#000" stroke="#000" stroke-width="0.4">ZPS Ucea</text>
<text x="95.0" y="845.4" font-size="32" font-weight="normal" textLength="599.4" lengthAdjust="spacingAndGlyphs" fill="#000" stroke="#000" stroke-width="0.4">Zone care au regim actual de ZPS (Jalon 34)</text>
<rect x="96" y="869" width="86" height="33" fill="#e43a36"/>
<text x="199.2" y="896.7" font-size="32" font-weight="normal" textLength="212.3" lengthAdjust="spacingAndGlyphs" fill="#000" stroke="#000" stroke-width="0.4">ROSAC0122ZPS</text>
<text x="94.8" y="956.9" font-size="32" font-weight="normal" textLength="542.4" lengthAdjust="spacingAndGlyphs" fill="#000" stroke="#000" stroke-width="0.4">Zone cu regim propus de ZPS (Jalon 35)</text>
<rect x="96" y="981" width="86" height="33.5" fill="#dc78c8"/>
<text x="199.2" y="1008.8" font-size="32" font-weight="normal" textLength="256.7" lengthAdjust="spacingAndGlyphs" fill="#000" stroke="#000" stroke-width="0.4">ROOECM00405ZPS</text>
<rect x="96" y="1037" width="86" height="33.5" fill="#7a3cdc"/>
<text x="199.2" y="1064.7" font-size="32" font-weight="normal" textLength="212.4" lengthAdjust="spacingAndGlyphs" fill="#000" stroke="#000" stroke-width="0.4">ROSAC0122ZPS</text>
<rect x="96" y="1093" width="86" height="33.5" fill="#b4d82c"/>
<text x="199.2" y="1120.6" font-size="32" font-weight="normal" textLength="212.4" lengthAdjust="spacingAndGlyphs" fill="#000" stroke="#000" stroke-width="0.4">ROSAC0132ZPS</text>
<rect x="96" y="1149" width="86" height="33.5" fill="#ee10b4"/>
<text x="199.2" y="1176.5" font-size="32" font-weight="normal" textLength="210.6" lengthAdjust="spacingAndGlyphs" fill="#000" stroke="#000" stroke-width="0.4">ROSPA0003ZPS</text>
<rect x="96" y="1205" width="86" height="33.5" fill="#c864c8"/>
<text x="199.2" y="1232.4" font-size="32" font-weight="normal" textLength="210.6" lengthAdjust="spacingAndGlyphs" fill="#000" stroke="#000" stroke-width="0.4">ROSPA0098ZPS</text>
<rect x="96" y="1261" width="86" height="33.5" fill="#1018d4"/>
<text x="199.2" y="1288.3" font-size="32" font-weight="normal" textLength="210.6" lengthAdjust="spacingAndGlyphs" fill="#000" stroke="#000" stroke-width="0.4">ROSPA0099ZPS</text>
<path d="M1151.9 1737.5 V1747 H1392.1 V1737.5 M1211.9 1737.5 V1747 M1271.9 1737.5 V1747 M1331.9 1737.5 V1747" fill="none" stroke="#777" stroke-width="1.9"/>
<text x="1151.7" y="1730" font-size="23.5" text-anchor="middle" fill="#000">0</text>
<text x="1212" y="1730" font-size="23.5" text-anchor="middle" fill="#000">1000</text>
<text x="1271.9" y="1730" font-size="23.5" text-anchor="middle" fill="#000">2000</text>
<text x="1331.4" y="1730" font-size="23.5" text-anchor="middle" fill="#000">3000</text>
<text x="1391.6" y="1730" font-size="23.5" text-anchor="middle" fill="#000">4000</text>
<text x="1426" y="1730" font-size="23.5" fill="#000">m</text>
</svg></div></body></html>
